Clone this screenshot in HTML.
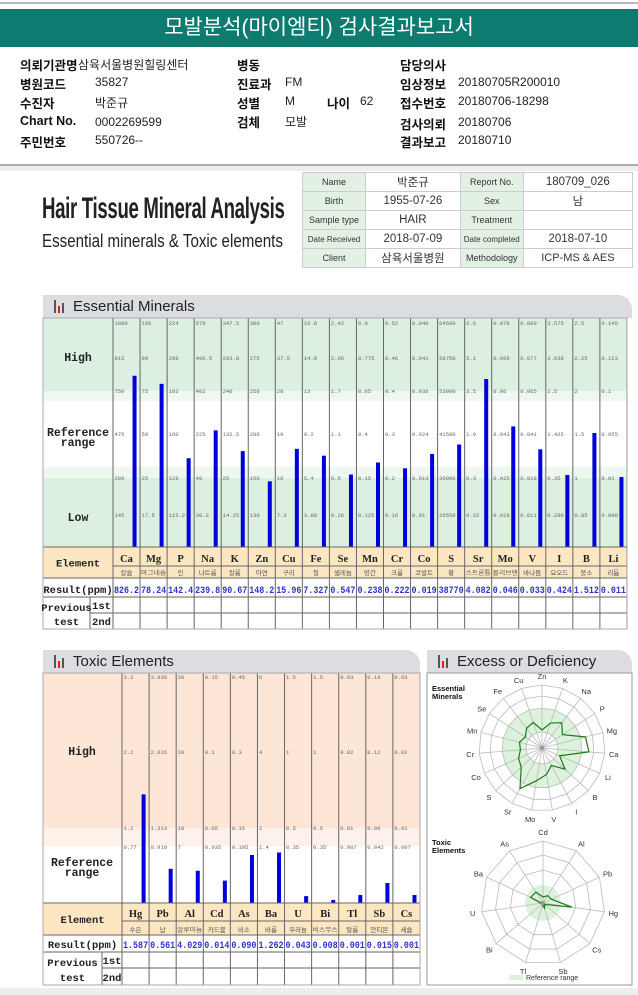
<!DOCTYPE html>
<html><head><meta charset="utf-8">
<style>
body{margin:0;width:638px;height:995px;background:#fff;position:relative;overflow:hidden;font-family:"Liberation Sans","Noto Sans CJK KR",sans-serif;}
.a{position:absolute;white-space:nowrap;}
.lb{font-weight:bold;font-size:12.5px;color:#111;}
.vl{font-size:12px;color:#222;}
.it td{border:1px solid #ccc;text-align:center;padding:0;height:18px;}
.it .k{background:#e2f1e4;font-size:9px;color:#333;width:62px;}
.it .v{font-size:11.5px;color:#333;}
.tab{position:absolute;background:#dcdde0;border-radius:0 14px 0 0;height:23px;}
.tab span{position:absolute;left:30px;top:3px;font-size:15px;color:#222;}
.ico{position:absolute;left:11px;bottom:5px;width:12px;height:13px;}
.ico i{position:absolute;bottom:0;width:2px;background:#555;}
</style></head><body>
<div class="a" style="left:0;top:2px;width:638px;height:2px;background:#bbb"></div>
<div class="a" style="left:0;top:9px;width:638px;height:38px;background:#0d7b6f;color:#fff;font-size:21px;text-align:center;line-height:38px;font-family:'Liberation Sans','Noto Sans CJK KR',sans-serif">모발분석(마이엠티) 검사결과보고서</div>

<div>
<div class="a lb" style="left:20px;top:55px">의뢰기관명</div><div class="a vl" style="left:78px;top:56px">삼육서울병원힐링센터</div>
<div class="a lb" style="left:20px;top:74px">병원코드</div><div class="a vl" style="left:95px;top:75px">35827</div>
<div class="a lb" style="left:20px;top:93px">수진자</div><div class="a vl" style="left:95px;top:94px">박준규</div>
<div class="a lb" style="left:20px;top:114px">Chart No.</div><div class="a vl" style="left:95px;top:115px">0002269599</div>
<div class="a lb" style="left:20px;top:132px">주민번호</div><div class="a vl" style="left:95px;top:133px">550726--</div>
<div class="a lb" style="left:237px;top:55px">병동</div>
<div class="a lb" style="left:237px;top:74px">진료과</div><div class="a vl" style="left:285px;top:75px">FM</div>
<div class="a lb" style="left:237px;top:93px">성별</div><div class="a vl" style="left:285px;top:94px">M</div>
<div class="a lb" style="left:327px;top:93px">나이</div><div class="a vl" style="left:360px;top:94px">62</div>
<div class="a lb" style="left:237px;top:112px">검체</div><div class="a vl" style="left:285px;top:113px">모발</div>
<div class="a lb" style="left:400px;top:55px">담당의사</div>
<div class="a lb" style="left:400px;top:74px">임상정보</div><div class="a vl" style="left:458px;top:75px">20180705R200010</div>
<div class="a lb" style="left:400px;top:93px">접수번호</div><div class="a vl" style="left:458px;top:94px">20180706-18298</div>
<div class="a lb" style="left:400px;top:114px">검사의뢰</div><div class="a vl" style="left:458px;top:115px">20180706</div>
<div class="a lb" style="left:400px;top:132px">결과보고</div><div class="a vl" style="left:458px;top:133px">20180710</div>
</div>
<div class="a" style="left:0;top:164px;width:638px;height:2px;background:#aaa"></div>
<div class="a" style="left:0;top:166px;width:638px;height:5px;background:#eee"></div>

<div class="a" style="left:42px;top:192px;font-size:30px;font-weight:bold;color:#222;transform:scaleX(0.62);transform-origin:left top;letter-spacing:-0.5px">Hair Tissue Mineral Analysis</div>
<div class="a" style="left:42px;top:231px;font-size:18px;color:#222;transform:scaleX(0.84);transform-origin:left top">Essential minerals &amp; Toxic elements</div>

<table class="a it" style="left:302px;top:172px;width:331px;border-collapse:collapse;border:1px solid #aaa">
<tr><td class="k">Name</td><td class="v">박준규</td><td class="k">Report No.</td><td class="v">180709_026</td></tr>
<tr><td class="k">Birth</td><td class="v">1955-07-26</td><td class="k">Sex</td><td class="v">남</td></tr>
<tr><td class="k">Sample type</td><td class="v">HAIR</td><td class="k">Treatment</td><td class="v"></td></tr>
<tr><td class="k" style="font-size:8px">Date Received</td><td class="v">2018-07-09</td><td class="k" style="font-size:8px">Date completed</td><td class="v">2018-07-10</td></tr>
<tr><td class="k">Client</td><td class="v">삼육서울병원</td><td class="k">Methodology</td><td class="v" style="font-size:11px">ICP-MS &amp; AES</td></tr>
</table>

<div class="tab" style="left:43px;top:295px;width:589px"><div class="ico"><i style="left:0;height:13px"></i><i style="left:4px;height:7px;background:#d22"></i><i style="left:8px;height:10px"></i></div><span>Essential Minerals</span></div>
<div class="tab" style="left:43px;top:650px;width:377px"><div class="ico"><i style="left:0;height:13px"></i><i style="left:4px;height:7px;background:#d22"></i><i style="left:8px;height:10px"></i></div><span>Toxic Elements</span></div>
<div class="tab" style="left:427px;top:650px;width:205px"><div class="ico"><i style="left:0;height:13px"></i><i style="left:4px;height:7px;background:#d22"></i><i style="left:8px;height:10px"></i></div><span>Excess or Deficiency</span></div>

<svg id="svg" class="a" style="left:0;top:0" width="638" height="995"></svg>

<script>
const essSymbols=["Ca","Mg","P","Na","K","Zn","Cu","Fe","Se","Mn","Cr","Co","S","Sr","Mo","V","I","B","Li"];
const essKorean=["칼슘","마그네슘","인","나트륨","칼륨","아연","구리","철","셀레늄","망간","크롬","코발트","황","스트론튬","몰리브덴","바나듐","요오드","붕소","리튬"];
const essResults=[826.2,78.24,142.4,239.8,90.67,148.2,15.96,7.327,0.547,0.238,0.222,0.019,38770,4.082,0.046,0.033,0.424,1.512,0.011];
const essResultLabels=["826.2","78.24","142.4","239.8","90.67","148.2","15.96","7.327","0.547","0.238","0.222","0.019","38770","4.082","0.046","0.033","0.424","1.512","0.011"];
const essTicks=[
[1080,915,750,475,200,145],[105,90,75,50,25,17.5],[224,208,192,160,128,115.2],[579,490.5,402,225,48,30.3],
[347.5,293.8,240,132.5,25,14.25],[300,275,250,200,150,130],[47,37.5,28,19,10,7.3],[16.8,14.9,13,9.2,5.4,3.88],
[2.42,2.06,1.7,1.1,0.5,0.26],[0.9,0.775,0.65,0.4,0.15,0.125],[0.52,0.46,0.4,0.3,0.2,0.16],[0.046,0.041,0.036,0.024,0.013,0.01],
[64500,58750,53000,41500,30000,26550],[6.6,5.1,3.5,1.9,0.3,0.22],[0.078,0.069,0.06,0.043,0.025,0.018],[0.089,0.077,0.065,0.041,0.018,0.011],
[3.575,3.038,2.5,1.425,0.35,0.296],[2.5,2.25,2,1.5,1,0.85],[0.145,0.123,0.1,0.055,0.01,0.008]];
const toxSymbols=["Hg","Pb","Al","Cd","As","Ba","U","Bi","Tl","Sb","Cs"];
const toxKorean=["수은","납","알루미늄","카드뮴","비소","바륨","우라늄","비스무스","탈륨","안티몬","세슘"];
const toxResults=[1.587,0.561,4.029,0.014,0.090,1.262,0.043,0.008,0.001,0.015,0.001];
const toxResultLabels=["1.587","0.561","4.029","0.014","0.090","1.262","0.043","0.008","0.001","0.015","0.001"];
const toxTicks=[[3.3,2.2,1.1,0.77],[3.939,2.626,1.313,0.919],[30,20,10,7],[0.15,0.1,0.05,0.035],[0.45,0.3,0.15,0.105],[6,4,2,1.4],[1.5,1,0.5,0.35],[1.5,1,0.5,0.35],[0.03,0.02,0.01,0.007],[0.18,0.12,0.06,0.042],[0.03,0.02,0.01,0.007]];

const svg=document.getElementById('svg');
const NS='http://www.w3.org/2000/svg';
function mk(tag,at,parent){const e=document.createElementNS(NS,tag);for(const k in at)e.setAttribute(k,at[k]);(parent||svg).appendChild(e);return e;}
function tx(x,y,s,at){const e=mk('text',Object.assign({x:x,y:y},at||{}));e.textContent=s;return e;}
const MONO='"Liberation Mono","Noto Sans CJK KR",monospace';

function yScale(v,ticks,tickY,bottom){
  const n=ticks.length;
  if(v<=ticks[n-1]) return bottom-(v/ticks[n-1])*(bottom-tickY[n-1]);
  for(let i=n-1;i>0;i--){ if(v<=ticks[i-1]) return tickY[i]-(v-ticks[i])/(ticks[i-1]-ticks[i])*(tickY[i]-tickY[i-1]); }
  return tickY[0];
}

function panel(cfg){
  const {x0,colW,labX,top,bottom,symbols,korean,results,resLabels,ticks,tickY,bands,rows,name}=cfg;
  const right=x0+colW*symbols.length;
  const g=mk('g',{});
  
  
  bands.forEach(b=>{mk('rect',{x:labX,y:b[0],width:right-labX,height:b[1]-b[0],fill:b[2]},g);});
  cfg.labels.forEach(l=>{const t=tx(l[0],l[1],l[2],{'font-family':MONO,'font-size':11.5,'font-weight':'bold','text-anchor':'middle',fill:'#222'});g.appendChild(t);});
  mk('rect',{x:labX,y:rows[0],width:right-labX,height:rows[2]-rows[0],fill:'#fde7c3'},g);
  mk('rect',{x:labX,y:rows[2],width:right-labX,height:rows[5]-rows[2],fill:'#fff'},g);
  const bars=[];
  symbols.forEach((s,i)=>{
    const cx=x0+i*colW;
    ticks[i].forEach((tv,j)=>{const t=tx(cx+1.5,tickY[j]+2,String(tv),{'font-family':MONO,'font-size':5.5,fill:'#666'});g.appendChild(t);});
    const yb=Math.min(yScale(results[i],ticks[i],tickY,bottom),bottom-3);
    const bar=mk('rect',{x:cx+colW-7.5,y:yb,width:4,height:bottom-yb,fill:'#0000dd'},g);
    
    
    bars.push((bottom-yb)/(bottom-top));
    const c=tx(cx+colW/2,rows[1]-4,s,{'font-family':'"Liberation Serif",serif','font-size':10.5,'font-weight':'bold','text-anchor':'middle',fill:'#222'});g.appendChild(c);
    const k=tx(cx+colW/2,rows[2]-3,korean[i],{'font-size':korean[i].length>3?6:6.5,'text-anchor':'middle',fill:'#555',textLength:korean[i].length>3?colW-2:'', 'lengthAdjust':'spacingAndGlyphs'});
    if(korean[i].length<=3)k.removeAttribute('textLength');
    g.appendChild(k);
    const r=tx(cx+colW/2,rows[3]-4,resLabels[i],{'font-family':MONO,'font-size':10,'font-weight':'bold','text-anchor':'middle',fill:'#3333cc',textLength:colW-2,'lengthAdjust':'spacingAndGlyphs'});g.appendChild(r);
    mk('line',{x1:cx,y1:top,x2:cx,y2:rows[5],stroke:'#666','stroke-width':1},g);
  });
  mk('line',{x1:right,y1:top,x2:right,y2:rows[5],stroke:'#666'},g);
  [rows[0],rows[1],rows[2],rows[3],rows[4],rows[5]].forEach((y,j)=>{
    const xs=(j===1)?x0:(j===4?cfg.subX:labX);
    mk('line',{x1:xs,y1:y,x2:right,y2:y,stroke:'#666'},g);
  });
  mk('line',{x1:labX,y1:top,x2:labX,y2:rows[5],stroke:'#aaa'},g);
  mk('line',{x1:cfg.subX,y1:rows[3],x2:cfg.subX,y2:rows[5],stroke:'#666'},g);
  mk('rect',{x:labX,y:top,width:right-labX,height:rows[5]-top,fill:'none',stroke:'#aaa'},g);
  const lm=(labX+x0)/2;
  [["Element",lm,(rows[0]+rows[2])/2+4],["Result(ppm)",lm,rows[3]-4]].forEach(l=>{const t=tx(l[1],l[2],l[0],{'font-family':MONO,'font-size':10.5,'font-weight':'bold','text-anchor':'middle',fill:'#222'});g.appendChild(t);});
  const pm=(labX+cfg.subX)/2;
  g.appendChild(tx(pm,rows[4]-2,"Previous",{'font-family':MONO,'font-size':10.5,'font-weight':'bold','text-anchor':'middle',fill:'#222'}));
  g.appendChild(tx(pm,rows[5]-4,"test",{'font-family':MONO,'font-size':10.5,'font-weight':'bold','text-anchor':'middle',fill:'#222'}));
  g.appendChild(tx((cfg.subX+x0)/2,rows[4]-4,"1st",{'font-family':MONO,'font-size':10.5,'font-weight':'bold','text-anchor':'middle',fill:'#222'}));
  g.appendChild(tx((cfg.subX+x0)/2,rows[5]-4,"2nd",{'font-family':MONO,'font-size':10.5,'font-weight':'bold','text-anchor':'middle',fill:'#222'}));
  return bars;
}

const essFrac=panel({name:'essential-minerals',x0:113,colW:27.05,labX:43,top:318,bottom:547,
  symbols:essSymbols,korean:essKorean,results:essResults,resLabels:essResultLabels,ticks:essTicks,
  tickY:[323,358,391,434,478,515],
  bands:[[318,391,'#ddefe1'],[391,401,'#eef7f0'],[401,467,'#fff'],[467,478,'#eef7f0'],[478,547,'#ddefe1']],
  labels:[[78,361,'High'],[78,436,'Reference'],[78,446,'range'],[78,521,'Low']],
  rows:[547,566,578,597,613,629],subX:90});
const toxFrac=panel({name:'toxic-elements',x0:122,colW:27.09,labX:43,top:673,bottom:903,
  symbols:toxSymbols,korean:toxKorean,results:toxResults,resLabels:toxResultLabels,ticks:toxTicks,
  tickY:[677,752,828,847],
  bands:[[673,828,'#fde6d6'],[828,846,'#fdf1e9'],[846,903,'#fff']],
  labels:[[82,755,'High'],[82,866,'Reference'],[82,876,'range']],
  rows:[903,921,935,952,968,985],subX:102});

mk('rect',{x:427,y:673,width:205,height:312,fill:'#fff',stroke:'#999'});
function radar(cx,cy,R,labels,fracs,angOf,rings,greenIn,greenOut,name,polyGrid){
  const g=mk('g',{});
  
  
  const pt=(i,r)=>{const a=angOf(i)*Math.PI/180;return [cx+r*Math.sin(a),cy-r*Math.cos(a)];};
  const ring=r=>labels.map((_,i)=>pt(i,r).join(',')).join(' ');
  if(polyGrid){
    mk('path',{d:'M'+ring(greenOut).split(' ').join(' L')+' Z M'+ring(greenIn).split(' ').join(' L')+' Z','fill-rule':'evenodd',fill:'#dcf2dc'},g);
  } else {
    mk('circle',{cx:cx,cy:cy,r:greenOut,fill:'#dcf2dc'},g);
  }
  rings.forEach(r=>mk('polygon',{points:ring(r),fill:'none',stroke:'#bbb','stroke-width':0.8},g));
  labels.forEach((l,i)=>{const p=pt(i,R);mk('line',{x1:cx,y1:cy,x2:p[0],y2:p[1],stroke:'#bbb','stroke-width':0.8},g);
    const q=pt(i,R+9);const t=tx(q[0],q[1]+3,l,{'font-size':7.5,'text-anchor':'middle',fill:'#333'});g.appendChild(t);});
  const poly=mk('polygon',{points:fracs.map((f,i)=>pt(i,f*R).join(',')).join(' '),fill:'none',stroke:'#1a7a1a','stroke-width':1.2},g);
  
  
  mk('circle',{cx:cx,cy:cy,r:2,fill:'#999'},g);
}
radar(542,748,63,essSymbols,essFrac,i=>(5-i)*360/19,[16,40,52,63],16,40,'essential-radar',true);
radar(543,903,62,toxSymbols,toxFrac,i=>(3-i)*360/11,[33,48,62],0,18,'toxic-radar',false);
tx(432,691,'Essential',{'font-size':7.5,'font-weight':'bold',fill:'#111'});
tx(432,699,'Minerals',{'font-size':7.5,'font-weight':'bold',fill:'#111'});
tx(432,845,'Toxic',{'font-size':7.5,'font-weight':'bold',fill:'#111'});
tx(432,853,'Elements',{'font-size':7.5,'font-weight':'bold',fill:'#111'});
const lg=mk('g',{});


mk('rect',{x:509,y:975,width:14,height:5,fill:'#dcf2dc'},lg);
lg.appendChild(tx(526,980,'Reference range',{'font-size':7,fill:'#333'}));
mk('rect',{x:0,y:988,width:638,height:7,fill:'#eee'});
</script>
</body></html>
